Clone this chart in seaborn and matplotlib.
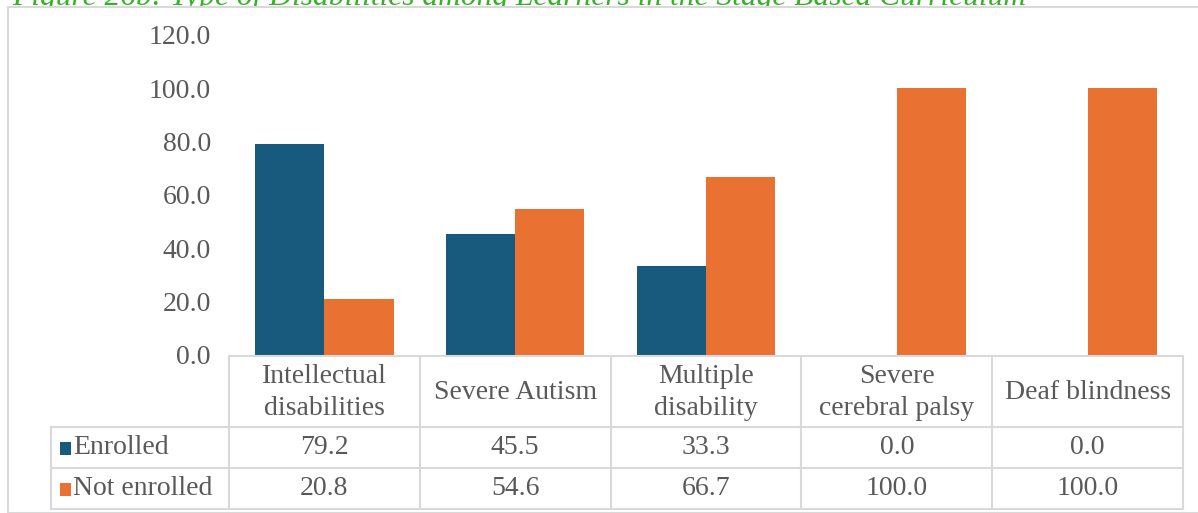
import matplotlib
matplotlib.use("Agg")
import matplotlib.pyplot as plt
import seaborn as sns
import pandas as pd
from matplotlib.patches import Rectangle

# ---- data -------------------------------------------------------------
categories = ["Intellectual\ndisabilities", "Severe Autism", "Multiple\ndisability",
              "Severe\ncerebral palsy", "Deaf blindness"]
series_names = ["Enrolled", "Not enrolled"]
enrolled = [79.2, 45.5, 33.3, 0.0, 0.0]
not_enrolled = [20.8, 54.6, 66.7, 100.0, 100.0]
y_ticks = [0, 20, 40, 60, 80, 100, 120]
title = "Figure 26b: Type of Disabilities among Learners in the Stage Based Curriculum"

colors = ["#175A7D", "#E97132"]
text_gray = "#595959"
grid_gray = "#D9D9D9"
font = "Liberation Serif"

df = pd.DataFrame({
    "category": categories * 2,
    "series": [series_names[0]] * len(categories) + [series_names[1]] * len(categories),
    "value": enrolled + not_enrolled,
})

# ---- figure in pixel units ---------------------------------------------
W, H = 1198, 513
sns.set_theme(style="white")
plt.rcParams["font.family"] = [font, "DejaVu Sans"]
fig = plt.figure(figsize=(W / 100, H / 100), dpi=100)


def fx(px):
    return px / W


def fy(py):
    return 1 - py / H


# caption sitting behind the top edge of the chart frame
fig.text(fx(12), fy(5), title, fontsize=22.7, style="italic", color="#38B02A",
         ha="left", va="baseline", zorder=-3)
fig.patches.append(Rectangle((fx(8), 0), 1.2, fy(7), transform=fig.transFigure,
                             facecolor="white", edgecolor=grid_gray, linewidth=1.5,
                             zorder=-2))

# ---- bars ---------------------------------------------------------------
plot_left, plot_right = 229, 1183
plot_top, plot_bottom = 34.6, 355
ax = fig.add_axes([fx(plot_left), fy(plot_bottom), fx(plot_right - plot_left),
                   (plot_bottom - plot_top) / H])
ax.patch.set_alpha(0)
sns.barplot(data=df, x="category", y="value", hue="series", order=categories,
            hue_order=series_names, palette=colors, saturation=1, width=0.725,
            linewidth=0, ax=ax, legend=False)
ax.set_ylim(0, 120)
ax.set_xlim(-0.5, len(categories) - 0.5)
ax.set_yticks(y_ticks)
ax.set_yticklabels([f"{v:.1f}" for v in y_ticks], fontsize=20, color=text_gray)
ax.tick_params(axis="y", length=0, pad=13)
ax.set_xticks([])
ax.set_xlabel("")
ax.set_ylabel("")
for s in ax.spines.values():
    s.set_visible(False)

# ---- data table ---------------------------------------------------------
tab_left, tab_right = 51, plot_right
tab_top, row1, row2, tab_bottom = 356, 427, 468, 509
tax = fig.add_axes([fx(tab_left), fy(tab_bottom), fx(tab_right - tab_left),
                    (tab_bottom - tab_top) / H])
tax.set_xlim(tab_left, tab_right)
tax.set_ylim(tab_bottom, tab_top)
tax.axis("off")

n = len(categories)
col_w = (plot_right - plot_left) / n
edges = [plot_left + i * col_w for i in range(n + 1)]
lw = 1.5
for xe in edges:
    tax.plot([xe, xe], [tab_top, tab_bottom], color=grid_gray, lw=lw, clip_on=False)
tax.plot([tab_left, tab_left], [row1, tab_bottom], color=grid_gray, lw=lw, clip_on=False)
tax.plot([plot_left, tab_right], [tab_top, tab_top], color=grid_gray, lw=lw, clip_on=False)
for yy in (row1, row2, tab_bottom):
    tax.plot([tab_left, tab_right], [yy, yy], color=grid_gray, lw=lw, clip_on=False)

for i, cat in enumerate(categories):
    cx = edges[i] + col_w / 2
    tax.text(cx, (tab_top + row1) / 2 + 1, cat, ha="center", va="center",
             fontsize=20, color=text_gray, linespacing=1.32)
    tax.text(cx, (row1 + row2) / 2, f"{enrolled[i]:.1f}", ha="center", va="center",
             fontsize=20, color=text_gray)
    tax.text(cx, (row2 + tab_bottom) / 2, f"{not_enrolled[i]:.1f}", ha="center",
             va="center", fontsize=20, color=text_gray)

# row labels with their colour keys
for name, color, (r0, r1) in zip(series_names, colors, [(row1, row2), (row2, tab_bottom)]):
    cy = (r0 + r1) / 2
    tax.add_patch(Rectangle((60, cy - 6), 11, 13, facecolor=color, edgecolor="none",
                            clip_on=False))
    tax.text(73, cy, name, ha="left", va="center", fontsize=20, color=text_gray)

fig.savefig("out.png", dpi=100)
